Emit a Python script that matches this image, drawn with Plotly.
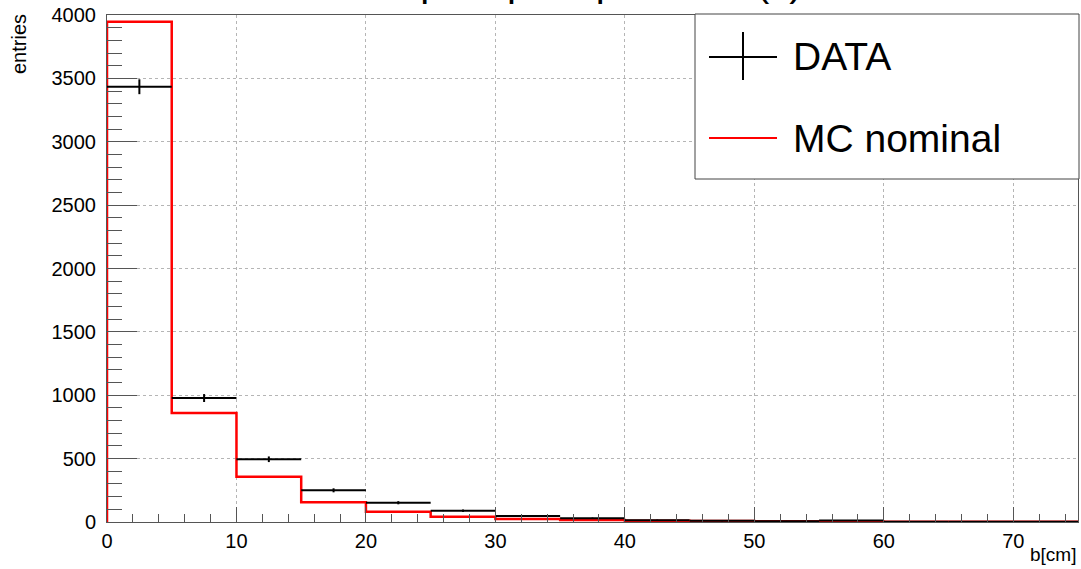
import numpy as np
import plotly.graph_objects as go

# Binning: 15 bins of 5 cm from 0 to 75 cm
bin_edges = [0, 5, 10, 15, 20, 25, 30, 35, 40, 45, 50, 55, 60, 65, 70, 75]
data_counts = [3434, 978, 495, 250, 152, 89, 47, 29, 14, 9, 5, 11, 2, 1, 1]
mc_nominal = [3947, 860, 357, 155, 81, 42, 24, 16, 10, 7, 5, 3, 2, 1, 1]

y_ticks = [0, 500, 1000, 1500, 2000, 2500, 3000, 3500, 4000]
x_ticks = [0, 10, 20, 30, 40, 50, 60, 70]

edges = np.array(bin_edges, dtype=float)
centers = 0.5 * (edges[:-1] + edges[1:])
half_w = 0.5 * np.diff(edges)
data = np.array(data_counts, dtype=float)
mc = np.array(mc_nominal, dtype=float)

FONT = "Liberation Sans, Arial, Helvetica, sans-serif"
W, H = 1081, 569
L, R, T, B = 107, 3, 15, 47
PW, PH = W - L - R, H - T - B


def px(x):
    return (x - L) / PW


def py(y):
    return (H - B - y) / PH


fig = go.Figure()

# MC histogram outline (step)
step_x = np.concatenate([[edges[0]], edges])
step_y = np.concatenate([[0.0], mc, [mc[-1]]])
fig.add_trace(go.Scatter(
    x=step_x, y=step_y, mode="lines", line_shape="hv",
    line=dict(color="#ff0000", width=2.5), name="MC nominal",
    showlegend=False, hoverinfo="skip",
))

# Data points with bin-width horizontal bars and sqrt(N) vertical errors
fig.add_trace(go.Scatter(
    x=centers, y=data, mode="markers",
    marker=dict(size=1, color="black"),
    error_x=dict(type="data", array=half_w, width=0, thickness=2, color="black"),
    error_y=dict(type="data", array=np.sqrt(data), width=0, thickness=2, color="black"),
    name="DATA", showlegend=False,
))

axis_common = dict(
    showline=True, mirror=True, linecolor="#555", linewidth=1,
    showgrid=True, gridcolor="#b5b5b5", griddash="dot", gridwidth=1,
    ticks="inside", tickcolor="#555", tickwidth=1,
    tickfont=dict(family=FONT, size=20, color="black"),
    zeroline=False,
)

fig.update_xaxes(
    range=[0, 75], tickvals=x_ticks, ticklen=15,
    minor=dict(dtick=2, ticks="inside", ticklen=8, tickcolor="#555", showgrid=False),
    ticklabelstandoff=1,
    **axis_common,
)
fig.update_yaxes(
    range=[0, 4000], tickvals=y_ticks, ticklen=30,
    minor=dict(dtick=100, ticks="inside", ticklen=15, tickcolor="#555", showgrid=False),
    ticklabelstandoff=6,
    **axis_common,
)

shapes = []
annotations = []

# Legend box
shapes.append(dict(type="rect", xref="paper", yref="paper",
                   x0=px(695), x1=px(1079), y0=py(179), y1=py(14),
                   line=dict(color="#444", width=1), fillcolor="white", layer="above"))
# DATA symbol: cross
shapes.append(dict(type="line", xref="paper", yref="paper",
                   x0=px(709), x1=px(777), y0=py(57), y1=py(57),
                   line=dict(color="black", width=2), layer="above"))
shapes.append(dict(type="line", xref="paper", yref="paper",
                   x0=px(743), x1=px(743), y0=py(32), y1=py(80),
                   line=dict(color="black", width=2), layer="above"))
# MC symbol: red line
shapes.append(dict(type="line", xref="paper", yref="paper",
                   x0=px(709), x1=px(777), y0=py(138), y1=py(138),
                   line=dict(color="#ff0000", width=2), layer="above"))

annotations.append(dict(text="DATA", xref="paper", yref="paper", x=px(791), y=py(57),
                        xanchor="left", yanchor="middle", showarrow=False,
                        font=dict(family=FONT, size=39, color="black")))
annotations.append(dict(text="MC nominal", xref="paper", yref="paper", x=px(791), y=py(138),
                        xanchor="left", yanchor="middle", showarrow=False,
                        font=dict(family=FONT, size=39, color="black")))

# Axis titles
annotations.append(dict(text="entries", xref="paper", yref="paper", x=px(19), y=py(12),
                        xanchor="center", yanchor="top", textangle=-90, showarrow=False,
                        font=dict(family=FONT, size=20, color="black")))
annotations.append(dict(text="b[cm]", xref="paper", yref="paper", x=1.0, y=py(554),
                        xanchor="right", yanchor="middle", showarrow=False,
                        font=dict(family=FONT, size=19, color="black")))

# Title (sits at the very top edge of the canvas)
annotations.append(dict(text="impact post-pos cuts (c)", xref="paper", yref="paper",
                        x=px(590), y=py(-18), xanchor="center", yanchor="middle",
                        showarrow=False, font=dict(family=FONT, size=40, color="black")))

fig.update_layout(
    width=W, height=H,
    margin=dict(l=L, r=R, t=T, b=B),
    paper_bgcolor="white", plot_bgcolor="white",
    shapes=shapes, annotations=annotations,
    showlegend=False,
)

fig.write_html("out.html")
